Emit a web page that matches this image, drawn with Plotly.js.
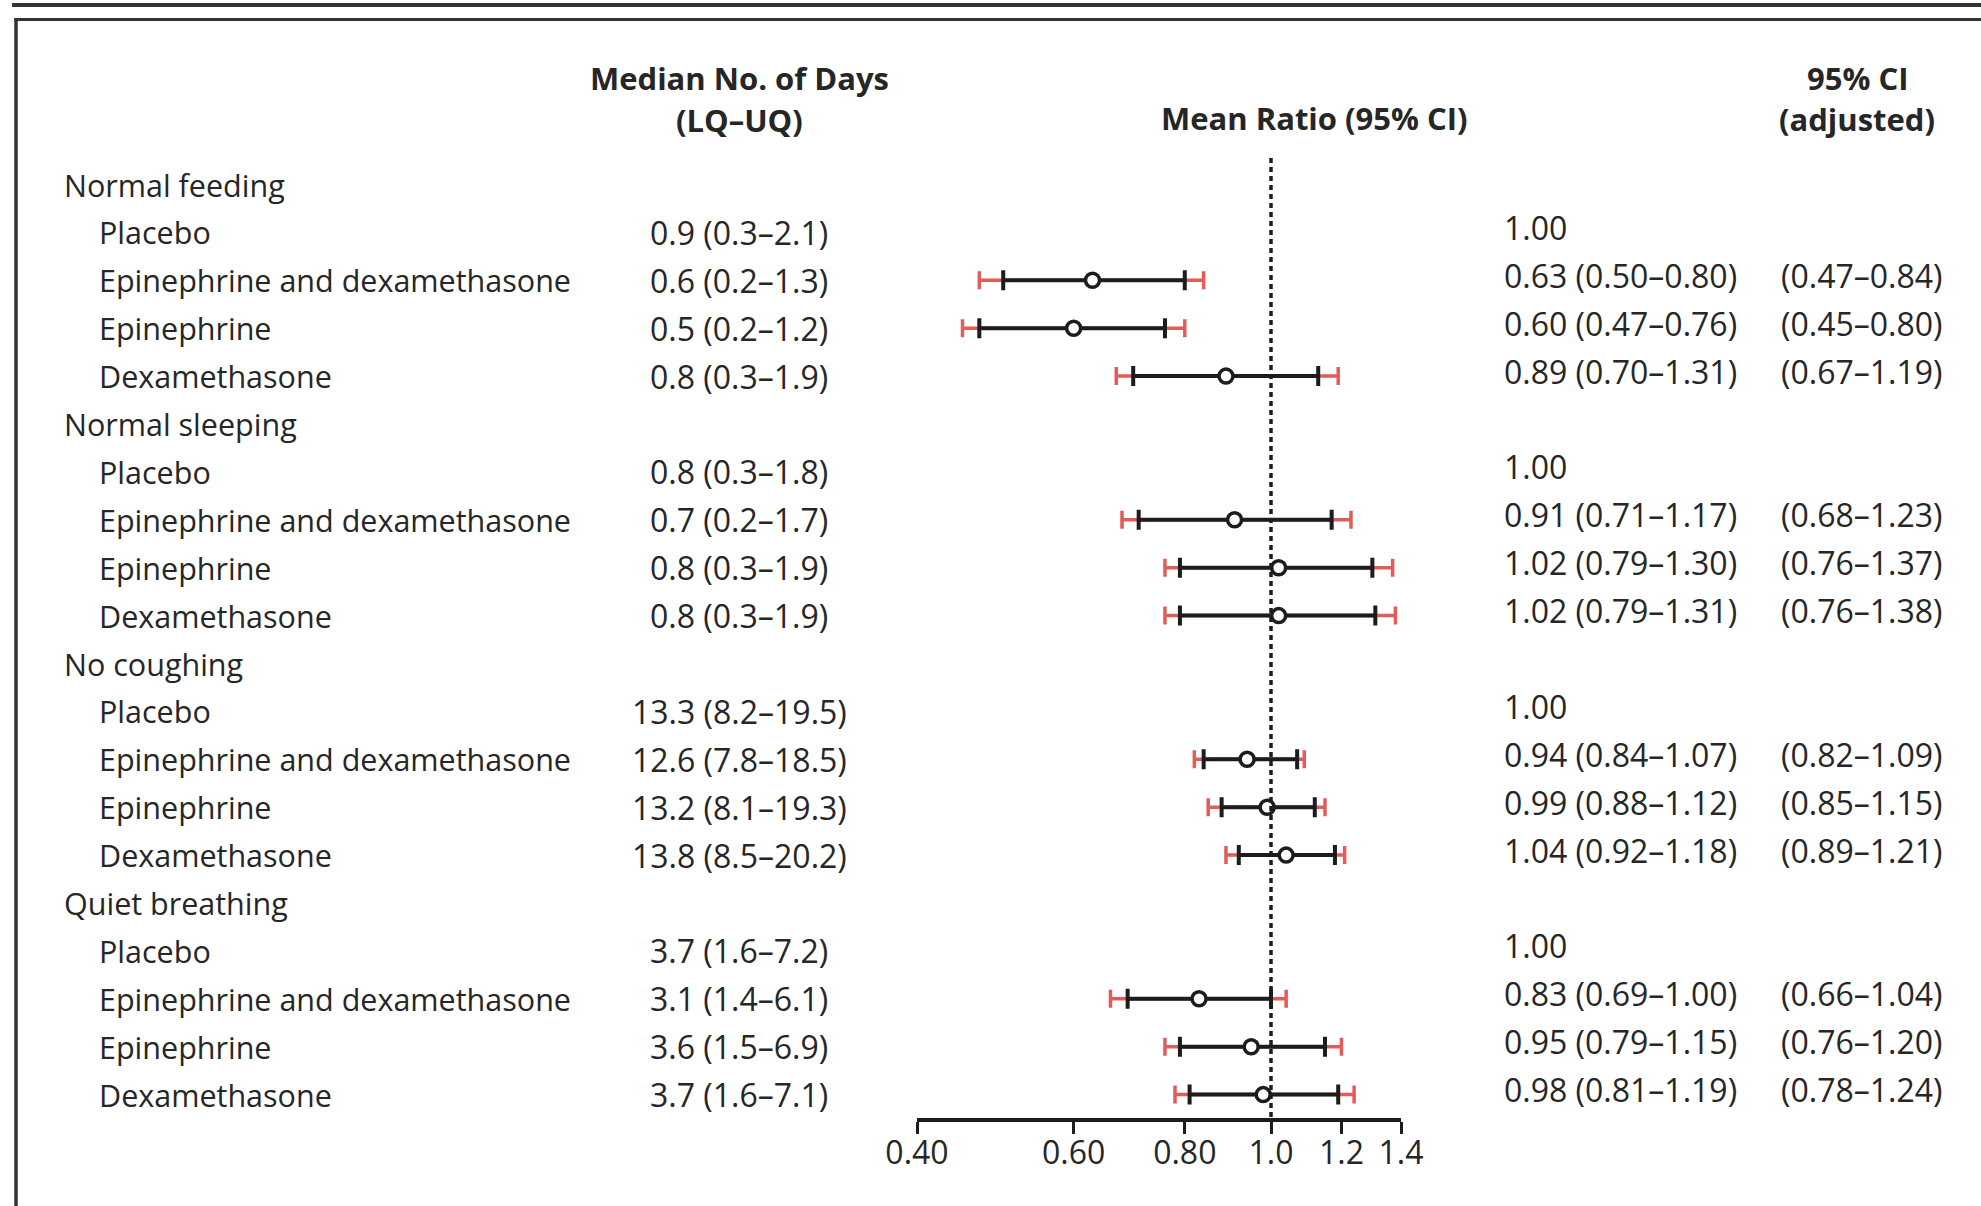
<!DOCTYPE html>
<html>
<head>
<meta charset="utf-8">
<script src="https://cdn.plot.ly/plotly-3.0.1.min.js"></script>
<style>html,body{margin:0;padding:0;background:#fff;}#chart{width:1981px;height:1206px;}</style>
</head>
<body>
<div id="chart"></div>
<script>
// ---------- data ----------
const groups = ["Normal feeding", "Normal sleeping", "No coughing", "Quiet breathing"];
const treatments = ["Placebo", "Epinephrine and dexamethasone", "Epinephrine", "Dexamethasone"];

const medianDays = [
  ["0.9 (0.3–2.1)", "0.6 (0.2–1.3)", "0.5 (0.2–1.2)", "0.8 (0.3–1.9)"],
  ["0.8 (0.3–1.8)", "0.7 (0.2–1.7)", "0.8 (0.3–1.9)", "0.8 (0.3–1.9)"],
  ["13.3 (8.2–19.5)", "12.6 (7.8–18.5)", "13.2 (8.1–19.3)", "13.8 (8.5–20.2)"],
  ["3.7 (1.6–7.2)", "3.1 (1.4–6.1)", "3.6 (1.5–6.9)", "3.7 (1.6–7.1)"]
];
const ratioText = [
  ["1.00", "0.63 (0.50–0.80)", "0.60 (0.47–0.76)", "0.89 (0.70–1.31)"],
  ["1.00", "0.91 (0.71–1.17)", "1.02 (0.79–1.30)", "1.02 (0.79–1.31)"],
  ["1.00", "0.94 (0.84–1.07)", "0.99 (0.88–1.12)", "1.04 (0.92–1.18)"],
  ["1.00", "0.83 (0.69–1.00)", "0.95 (0.79–1.15)", "0.98 (0.81–1.19)"]
];
const adjText = [
  ["", "(0.47–0.84)", "(0.45–0.80)", "(0.67–1.19)"],
  ["", "(0.68–1.23)", "(0.76–1.37)", "(0.76–1.38)"],
  ["", "(0.82–1.09)", "(0.85–1.15)", "(0.89–1.21)"],
  ["", "(0.66–1.04)", "(0.76–1.20)", "(0.78–1.24)"]
];
// plotted values (placebo = reference, no mark)
const ratio   = [[null, 0.63, 0.60, 0.89], [null, 0.91, 1.02, 1.02], [null, 0.94, 0.99, 1.04], [null, 0.83, 0.95, 0.98]];
const ciLow   = [[null, 0.50, 0.47, 0.70], [null, 0.71, 0.79, 0.79], [null, 0.84, 0.88, 0.92], [null, 0.69, 0.79, 0.81]];
const ciHigh  = [[null, 0.80, 0.76, 1.13], [null, 1.17, 1.30, 1.31], [null, 1.07, 1.12, 1.18], [null, 1.00, 1.15, 1.19]];
const adjLow  = [[null, 0.47, 0.45, 0.67], [null, 0.68, 0.76, 0.76], [null, 0.82, 0.85, 0.89], [null, 0.66, 0.76, 0.78]];
const adjHigh = [[null, 0.84, 0.80, 1.19], [null, 1.23, 1.37, 1.38], [null, 1.09, 1.15, 1.21], [null, 1.04, 1.20, 1.24]];

const tickVals = [0.40, 0.60, 0.80, 1.0, 1.2, 1.4];
const tickText = ["0.40", "0.60", "0.80", "1.0", "1.2", "1.4"];

// ---------- build ----------
const W = 1981, H = 1206;
const FONT = "Open Sans, Noto Sans, sans-serif";
const TXT = "#262626";
const RED = "#e25c5a";
const INK = "#1c1c1c";
const LBL = 30.5, NUM = 32, HDR = 31;
const px = v => v / W;           // x pixel -> paper
const py = v => 1 - v / H;       // y pixel -> paper

const rowY = [], rowX = [], rowLo = [], rowHi = [], rowALo = [], rowAHi = [];
const annotations = [];
const ann = (x, y, text, anchor, size, yshift) => ({xref: "paper", yref: "y", x: px(x), y: y, yshift: yshift || 0,
  text: text, showarrow: false, xanchor: anchor, yanchor: "middle", font: {family: FONT, size: size, color: TXT}});
let r = 0;
groups.forEach((g, gi) => {
  annotations.push(ann(62, r, g, "left", LBL));
  r++;
  treatments.forEach((t, ti) => {
    annotations.push(ann(97, r, t, "left", LBL));
    annotations.push(ann(739, r, medianDays[gi][ti], "center", NUM));
    annotations.push(ann(1502, r, ratioText[gi][ti], "left", NUM, 5));
    if (adjText[gi][ti]) annotations.push(ann(1779, r, adjText[gi][ti], "left", NUM, 5));
    rowY.push(r);
    rowX.push(ratio[gi][ti]);
    rowLo.push(ciLow[gi][ti]); rowHi.push(ciHigh[gi][ti]);
    rowALo.push(adjLow[gi][ti]); rowAHi.push(adjHigh[gi][ti]);
    r++;
  });
});

// headers
const hdr = (x, y, text) => ({xref: "paper", yref: "paper", x: px(x), y: py(y), text: text, showarrow: false,
  xanchor: "center", yanchor: "middle", font: {family: FONT, size: HDR, color: TXT, weight: 700}});
annotations.push(hdr(739, 78, "Median No. of Days"));
annotations.push(hdr(739, 120, "(LQ–UQ)"));
annotations.push(hdr(1314, 118, "Mean Ratio (95% CI)"));
annotations.push(hdr(1857, 78, "95% CI"));
annotations.push(hdr(1857, 119, "(adjusted)"));

const errPlus  = (hi) => rowX.map((m, i) => m == null ? null : hi[i] - m);
const errMinus = (lo) => rowX.map((m, i) => m == null ? null : m - lo[i]);

const traces = [
  { // adjusted CI (red)
    type: "scatter", mode: "markers", x: rowX, y: rowY, hoverinfo: "skip",
    marker: {size: 1, color: "rgba(0,0,0,0)"},
    error_x: {type: "data", symmetric: false, array: errPlus(rowAHi), arrayminus: errMinus(rowALo),
      color: RED, thickness: 3.5, width: 9}
  },
  { // unadjusted CI (black) with point estimate
    type: "scatter", mode: "markers", x: rowX, y: rowY, hoverinfo: "skip",
    marker: {symbol: "circle", size: 14, color: "#ffffff", line: {color: INK, width: 3.5}},
    error_x: {type: "data", symmetric: false, array: errPlus(rowHi), arrayminus: errMinus(rowLo),
      color: INK, thickness: 4, width: 10}
  }
];

const axisBottom = 1118, row0 = 184.5, rowStep = 47.9;
const layout = {
  width: W, height: H,
  margin: {l: 0, r: 0, t: 0, b: 0, pad: 0},
  paper_bgcolor: "#ffffff", plot_bgcolor: "rgba(0,0,0,0)",
  showlegend: false,
  xaxis: {
    type: "log", range: [Math.log10(0.4), Math.log10(1.4)],
    domain: [px(917), px(1401)],
    showgrid: false, zeroline: false, showline: true, linecolor: INK, linewidth: 3.5,
    ticks: "outside", ticklen: 12, tickwidth: 3, tickcolor: INK,
    ticklabelstandoff: -8,
    tickvals: tickVals, ticktext: tickText,
    tickfont: {family: FONT, size: NUM, color: TXT}
  },
  yaxis: {
    domain: [py(axisBottom), 1],
    range: [(axisBottom - row0) / rowStep, -row0 / rowStep],
    visible: false, showgrid: false, zeroline: false
  },
  annotations: annotations,
  shapes: [
    {type: "line", xref: "x", yref: "paper", x0: 1, x1: 1, y0: py(158), y1: py(axisBottom),
      line: {color: INK, width: 3.5, dash: "5px,4px"}},
    {type: "line", xref: "paper", yref: "paper", x0: px(12), x1: 1, y0: py(5), y1: py(5),
      line: {color: "#333", width: 4}},
    {type: "line", xref: "paper", yref: "paper", x0: px(14.5), x1: 1, y0: py(19.5), y1: py(19.5),
      line: {color: "#333", width: 3}},
    {type: "line", xref: "paper", yref: "paper", x0: px(16), x1: px(16), y0: py(18), y1: 0,
      line: {color: "#333", width: 3.5}}
  ]
};

Plotly.newPlot("chart", traces, layout, {displayModeBar: false, staticPlot: true});
</script>
</body>
</html>
